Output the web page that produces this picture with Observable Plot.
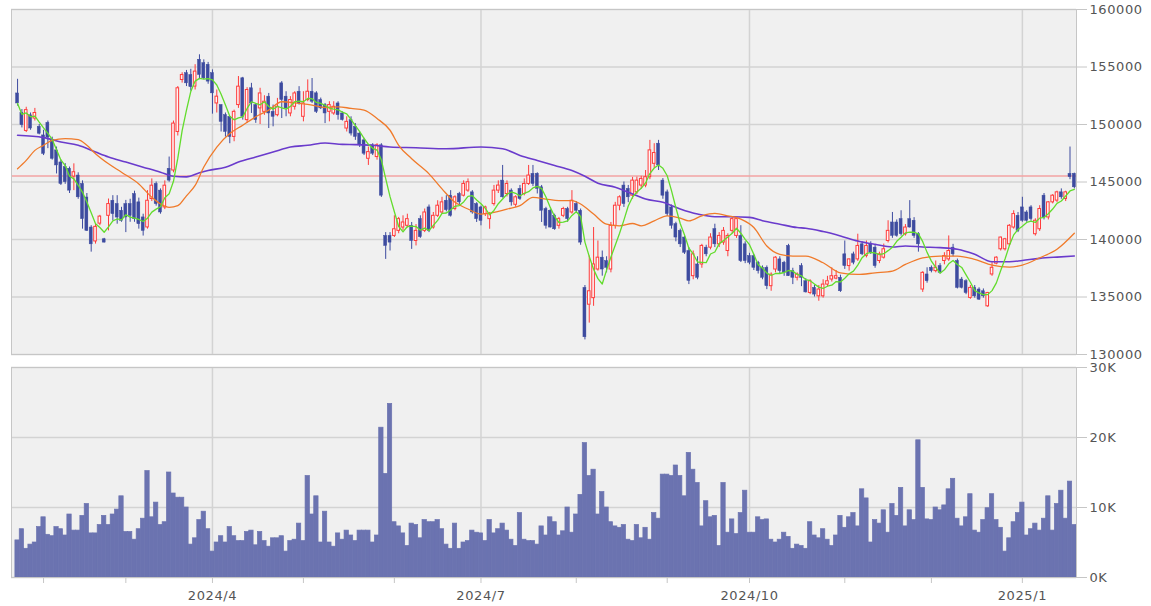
<!DOCTYPE html>
<html>
<head>
<meta charset="utf-8">
<script src="https://cdn.jsdelivr.net/npm/d3@7"></script>
<script src="https://cdn.jsdelivr.net/npm/@observablehq/plot@0.6"></script>
<style>
  html, body { margin: 0; padding: 0; background: #ffffff; }
  #chart svg { display: block; }
  #chart text { letter-spacing: 0.6px; }
</style>
</head>
<body>
<div id="chart"></div>
<script>
// ---- Data ----
const openV = [
152700,151000,149440,150800,150520,149800,149050,150140,148620,147750,
146700,146290,146150,145470,145560,144830,143650,141040,139830,141380,
140020,142060,143370,143080,142500,143080,143080,143950,143230,141920,
141050,143520,144830,144250,142790,146150,146000,149350,153870,154460,
154300,153300,155630,155330,155190,154460,151830,151690,150810,150670,
148920,151690,154020,150380,153150,151690,151400,151100,152420,151100,
150810,153580,152420,150960,151540,152850,150670,152130,152850,152710,
152130,151690,151100,150960,151830,150960,149650,150380,149790,149210,
148620,147020,148190,147170,148190,140310,140310,140310,140750,141040,
141190,141190,139870,141770,140750,142790,141040,142060,142350,143370,
143810,142650,143960,143810,144250,144100,143080,142790,142210,141770,
143080,144250,145120,143960,144250,143020,144400,143960,144830,145710,
145710,144540,142650,142500,142060,141190,142060,142650,142350,143080,
142500,135790,134330,134900,137390,138420,138120,137390,141190,142940,
144690,144400,143810,144100,144690,144690,145420,146580,148330,145120,
144100,142790,141330,140750,140170,139000,136810,137830,137830,139290,
139290,140900,139580,139730,139000,140750,140310,140310,139580,138560,
138560,137980,137540,137540,135940,137390,138270,137980,139440,137250,
136670,137690,136370,135350,135790,135060,135060,136080,136520,136600,
136670,138710,137690,138710,138270,139580,138560,139580,139290,138130,
138420,139870,141480,141480,141770,140460,141770,141630,140460,135650,
136960,137540,137250,137690,138130,138270,139290,138130,136520,136370,
134920,135790,135650,135500,134190,136960,137900,139150,139150,139580,
141040,142060,142790,142350,142790,140460,140890,143810,141920,143230,
143380,144100,143520,145710,145710
];
const highV = [
153930,151300,151500,151000,151400,150000,149500,150300,148900,148040,
146900,146600,146300,146580,145800,145100,144000,141200,141300,142100,
140100,143520,143810,143810,142800,143400,143500,144200,143600,142200,
144250,145270,145000,144400,145100,147170,150300,153300,154500,154700,
154800,155200,156060,155620,155400,154750,153000,151700,151000,150700,
151250,154170,154100,153200,153580,151800,153150,152500,152700,151690,
152270,153730,152850,152420,152850,153290,152850,153880,154000,152850,
152300,151830,151980,151980,151980,151100,150670,150670,150080,149350,
148800,148040,148330,148330,148330,140600,140600,142060,141920,142060,
142200,141480,141300,142060,142650,143000,142350,143370,143670,143810,
144250,143800,144100,145100,145270,144250,143200,142900,142900,142350,
144700,145100,146440,145100,144400,143800,144700,145270,146440,146440,
145800,144700,142800,142600,142200,141920,142800,142800,144250,143300,
142650,136000,138560,141040,139870,139000,138500,141480,143230,143800,
145000,144700,145400,145420,145500,146000,148620,148330,148620,145300,
144300,143000,141500,140900,140300,139300,139000,138500,139580,139500,
140500,141330,140600,141040,140500,141900,141900,141200,139800,138800,
138700,138100,137700,137700,137100,138500,138500,138100,139580,137500,
137100,137900,136600,136500,136000,136000,136500,136800,137540,137300,
136900,139870,138300,138900,140460,139800,139870,139800,139500,138900,
139600,141630,142350,141700,142500,141300,143380,141900,140600,137200,
137540,137700,138130,137900,138850,140310,139580,138300,136700,136500,
136000,136000,135800,135700,135400,137980,138500,140200,140100,141300,
142500,142350,143670,142500,142940,141800,142940,144000,143300,143900,
144200,144400,144200,148040,145770
];
const lowV = [
151600,149700,149300,149500,150300,149100,147300,147900,146900,145700,
144700,144800,144000,144250,143500,140900,140700,138900,139600,141200,
139700,140750,141620,141330,141500,140600,141500,141500,140900,140300,
140900,143300,142900,142200,142600,144980,145800,149000,153600,153300,
152900,153000,153900,153900,153500,150900,151000,149350,148900,148330,
148500,151400,150380,150100,150960,150100,150000,150800,149650,149800,
150670,150520,150670,150670,151250,151690,150230,151980,151830,150960,
151300,150080,150230,150800,150380,150300,149350,149000,148620,148000,
147300,146440,147300,146900,143660,138270,139000,140170,140500,140750,
141000,139140,139440,140100,140600,140600,140900,141920,142200,142400,
141950,142500,142900,143700,144100,142200,141480,141190,142000,140890,
142900,144000,143600,143700,142900,142800,143400,143800,144700,144600,
143960,141480,140900,141000,140800,140900,141900,141500,142200,142350,
139500,131270,132730,134190,137250,136810,137100,137100,140900,142500,
142790,143200,143500,143900,144400,144500,145200,146200,146000,143500,
142000,140900,139800,139300,138700,136080,136500,136500,137500,138500,
139100,139300,139300,139500,138500,140500,140100,138000,137900,137800,
137300,137000,136500,135640,135500,137100,137000,136800,136800,136080,
136400,135900,135350,135200,135000,134630,134900,135900,136300,136500,
135400,137400,137250,137800,138100,138600,138400,138700,137500,137900,
138300,139700,140100,140200,140300,140300,141000,140100,138900,135400,
136200,137100,137100,137000,137800,138100,138500,135700,135700,135200,
134800,134900,134700,134900,134100,136800,137800,139000,139000,139400,
140900,140600,141500,141500,141600,140300,140700,141700,141700,143100,
143200,143500,143300,145200,144400
];
const closeV = [
151830,149940,151250,149650,151000,149200,147450,148860,147020,146440,
144830,144980,144250,145850,143670,141770,140750,139580,141100,141990,
139730,143080,142210,141910,141620,141920,142060,141770,141330,140750,
143370,144680,143080,142350,144680,145120,150080,153150,154300,153580,
153250,154600,154310,154020,153730,152710,152420,150230,149350,148920,
151100,153290,150670,153000,151830,150380,152700,151980,150960,150670,
151540,152130,151400,152130,152700,151830,151830,152850,151980,151100,
151400,150960,151690,151540,150810,150380,150230,149210,148920,148190,
147460,147600,147460,148190,143810,139440,139730,140890,141770,141480,
141770,139870,140750,140200,142350,140750,142060,142940,143230,142550,
142060,143670,143230,144830,144980,142350,141770,141620,142790,142210,
144250,144690,143670,144830,143230,143670,143520,144830,145560,144830,
144400,142500,141190,141040,140890,141770,142650,141770,143370,142500,
139730,131500,135500,137830,138420,137390,137540,141190,142940,143670,
143080,143670,145120,145120,145270,145420,147750,147520,146440,143810,
142210,141190,140170,139580,138850,136400,138710,136670,139440,138710,
140170,139580,140310,140750,140310,141770,141770,138120,138120,137980,
137540,137250,136670,135940,136940,138420,137250,137100,136810,136670,
136960,136670,135400,136370,135210,135650,136080,136370,136810,136810,
135500,137690,138270,137980,139440,138710,139440,138850,137690,138710,
139150,140750,140310,140310,140460,141040,141040,140310,139580,137100,
136370,137250,137540,137100,138560,139000,138710,135790,135790,135350,
135790,135060,134770,135060,135350,137540,138420,140170,140020,141190,
142210,140750,141630,141630,141770,141630,142650,141920,143230,143810,
144100,143670,144100,145420,144540
];
const volumeV = [
5300,6900,4100,4700,5000,7200,8600,6100,5900,7200,
6900,6000,9000,6700,6700,8800,10500,6300,6300,7500,
8800,7500,9000,9700,11600,6500,6500,5400,6900,8400,
15200,8600,10700,7500,7900,15000,12000,11400,11400,10000,
4700,5600,8200,9400,6900,3700,5000,5900,5000,7200,
5900,5200,5200,6500,6700,4600,6500,5200,4400,5600,
5600,5900,3700,5200,5400,7700,5200,14500,9000,11600,
5000,9400,5000,4400,6300,5400,6700,6000,5200,6700,
6700,6700,5000,6000,21400,14800,24800,7900,7300,6300,
4500,7700,7500,5600,8200,7900,7900,8200,6900,4700,
4100,7700,4100,5000,5200,6700,6400,6300,5200,8200,
6300,6900,7700,6700,5400,4500,9200,5400,5200,5200,
4700,7300,6000,8600,7900,6000,6600,10000,6400,9000,
11800,19200,14500,15400,9000,12200,10000,7900,7300,7100,
7500,5400,5200,7500,5600,7100,5400,9200,8400,14700,
14700,14500,16000,14500,11600,17800,15400,13500,7300,10900,
8600,8800,4500,13500,6400,8300,6200,9200,12400,6400,
6400,8600,8200,8300,5400,5000,5400,6400,5800,4100,
4700,4500,4100,7900,6000,5600,6900,5400,4500,6000,
8800,7100,8600,9200,7300,12600,11300,5000,8200,7700,
9600,6400,10500,8800,12800,7300,9600,8200,19600,12800,
8300,8200,10000,9600,10300,12600,14100,8400,7300,8600,
11900,6700,6400,8200,9900,11900,8200,7100,3700,5600,
7900,9200,10700,6000,6900,7700,6700,8400,11600,6700,
10500,12400,8400,13700,7500
];
// 25-day and 75-day moving averages (trading-day index, value)
const ma25Day = [0,2,4,6,8,11,14,16,18,21,24,28,31,33,35,37,39,41,43,46,49,52,55,58,61,65,68,71,74,77,80,83,86,88,91,95,98,101,104,107,110,113,116,119,122,125,128,130,133,136,139,142,144,147,150,153,155,158,161,164,167,170,173,176,179,182,186,190,194,198,202,205,209,213,217,221,225,229,232,236,240,244];
const ma25Val = [146150,146880,147750,148190,148620,148770,148680,148190,147460,146580,145850,144830,143670,143090,142790,142940,143800,144700,146300,148040,149210,149940,150670,151250,151980,151830,151690,151480,151540,151400,151250,150520,149500,148190,147020,145710,144400,143230,142650,142210,142350,142650,142940,143670,143520,143380,143380,143090,142210,141330,141190,141390,141190,141620,142060,141860,141620,142060,142270,142060,141770,141040,139440,138710,138560,138560,137980,137100,136960,137100,137250,137830,138410,138560,138560,138270,137770,137600,137770,138410,139150,140540];
const ma75Day = [0,6,10,14,18,21,25,29,33,36,39,42,44,48,51,55,59,63,67,71,75,78,82,86,92,99,107,112,116,120,124,128,131,134,138,142,145,149,153,157,161,165,169,172,176,180,182,186,190,194,198,202,205,209,213,217,221,225,229,232,236,240,244];
const ma75Val = [149060,148860,148480,148190,147600,147170,146730,146290,145850,145500,145450,145800,146000,146290,146730,147170,147600,148040,148190,148390,148270,148250,148190,148040,147980,147890,148040,147890,147310,146870,146440,146000,145500,144900,144540,143960,143520,143230,142650,142210,141980,141980,141920,141630,141330,141040,140980,140690,140310,139870,139580,139350,139440,139350,139290,139150,138710,138060,138060,138180,138360,138470,138560];
const refPrice = 145530;
const priceTicks = [130000,135000,140000,145000,150000,155000,160000];
const volumeTicks = [0,10000,20000,30000];
const monthLabels = ["2024/1","2024/2","2024/3","2024/4","2024/5","2024/6","2024/7","2024/8","2024/9","2024/10","2024/11","2024/12","2025/1"];
const monthTradingDays = [6,19,20,21,21,20,22,21,19,22,20,21,13];
const shownLabels = ["2024/4","2024/7","2024/10","2025/1"];

// ---- Derived tables ----
const candles = closeV.map((c, i) => ({i, o: openV[i], h: highV[i], l: lowV[i], c, up: c >= openV[i]}));
const vols = volumeV.map((v, i) => ({i, v}));
const ma25 = ma25Day.map((d, k) => ({i: d, v: ma25Val[k]}));
const ma75 = ma75Day.map((d, k) => ({i: d, v: ma75Val[k]}));
const monthStart = [];
let acc = 0;
monthTradingDays.forEach((n, m) => { if (m > 0) monthStart.push({i: acc, label: monthLabels[m]}); acc += n; });
const quarterStarts = monthStart.filter(d => shownLabels.includes(d.label)).map(d => d.i);
const labelOf = new Map(monthStart.map(d => [d.i, shownLabels.includes(d.label) ? d.label : ""]));

const BLUE = "#3d4b9f", RED = "#ff3b3b", GRID = "#d3d3d3", FRAME = "#c6c6c6", TXT = "#555", VOL = "#6b73b0";
const xDomain = [-1.4, 244.5];
const common = {
  width: 1151, marginLeft: 11, marginRight: 75,
  style: {fontFamily: "'DejaVu Sans', Verdana, sans-serif", fontSize: "13px", background: "transparent", overflow: "visible"}
};

const price = Plot.plot({
  ...common,
  height: 361, marginTop: 9, marginBottom: 7,
  x: {domain: xDomain, axis: null},
  y: {domain: [130000, 160000], axis: null},
  marks: [
    Plot.frame({fill: "#f0f0f0"}),
    Plot.ruleY(priceTicks, {stroke: GRID, strokeWidth: 1.5}),
    Plot.ruleX(quarterStarts, {stroke: GRID, strokeWidth: 1.5}),
    Plot.ruleY([refPrice], {stroke: "#f3a3a3", strokeWidth: 1.5}),
    Plot.ruleX(candles, {x: "i", y1: "l", y2: "h", stroke: d => d.up ? RED : BLUE, strokeWidth: 1}),
    Plot.rect(candles.filter(d => !d.up), {x1: d => d.i - 0.34, x2: d => d.i + 0.34, y1: "o", y2: "c", fill: BLUE, stroke: BLUE, strokeWidth: 0.5}),
    Plot.rect(candles.filter(d => d.up), {x1: d => d.i - 0.3, x2: d => d.i + 0.3, y1: "o", y2: "c", fill: "#fff6f6", stroke: RED, strokeWidth: 1}),
    Plot.line(ma75, {x: "i", y: "v", stroke: "#6a3bcc", strokeWidth: 1.6, curve: "monotone-x"}),
    Plot.line(ma25, {x: "i", y: "v", stroke: "#f07a2a", strokeWidth: 1.3, curve: "monotone-x"}),
    Plot.lineY(candles, Plot.windowY({k: 5, anchor: "end"}, {x: "i", y: "c", stroke: "#62dc2c", strokeWidth: 1.3})),
    Plot.frame({stroke: FRAME}),
    Plot.axisY({anchor: "right", ticks: priceTicks, tickSize: 10, tickPadding: 3, tickFormat: d3.format("d"), stroke: FRAME, fill: TXT, label: null})
  ]
});

const volume = Plot.plot({
  ...common,
  height: 245, marginTop: 6, marginBottom: 29,
  x: {domain: xDomain},
  y: {domain: [0, 30000], axis: null},
  marks: [
    Plot.frame({fill: "#f0f0f0"}),
    Plot.ruleY(volumeTicks, {stroke: GRID, strokeWidth: 1.5}),
    Plot.ruleX(quarterStarts, {stroke: GRID, strokeWidth: 1.5}),
    Plot.rect(vols, {x1: d => d.i - 0.5, x2: d => d.i + 0.5, y1: 0, y2: "v", fill: VOL, stroke: VOL, strokeWidth: 0.7}),
    Plot.frame({stroke: FRAME}),
    Plot.axisY({anchor: "right", ticks: volumeTicks, tickSize: 10, tickPadding: 3, tickFormat: d => (d / 1000) + "K", stroke: FRAME, fill: TXT, label: null}),
    Plot.axisX({anchor: "bottom", ticks: monthStart.map(d => d.i), tickSize: 6, tickPadding: 7, tickFormat: d => labelOf.get(d) || "", stroke: FRAME, fill: TXT, label: null})
  ]
});

const root = document.getElementById("chart");
root.append(price, volume);
</script>
</body>
</html>
